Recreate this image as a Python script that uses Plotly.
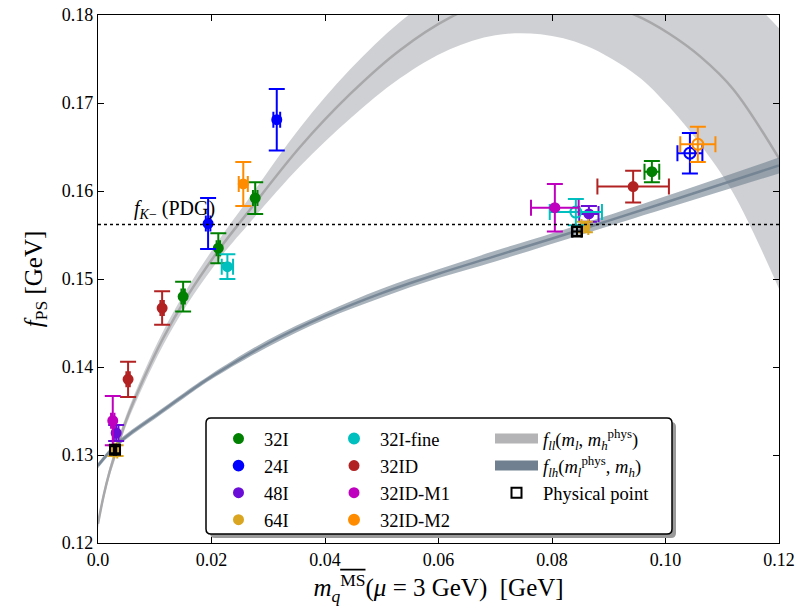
import plotly.graph_objects as go

# ---------------- data ----------------
# f_ll band (light gray): central curve and half width
m_ll = [0.0, 0.001, 0.002, 0.003, 0.005, 0.008, 0.0115, 0.0155, 0.0215, 0.0262, 0.0356,
        0.0444, 0.0532, 0.062, 0.070, 0.078, 0.086, 0.095, 0.1006, 0.1061, 0.1119, 0.12]
fll_center = [0.1222, 0.1254, 0.1280, 0.1301, 0.1340, 0.1386, 0.1433, 0.1478, 0.1535, 0.1574,
              0.1650, 0.1710, 0.1760, 0.1797, 0.1818, 0.1825, 0.1819, 0.1799, 0.1779, 0.1753,
              0.1716, 0.1637]
fll_halfwidth = [0.0005, 0.0005, 0.0005, 0.0006, 0.0006, 0.0007, 0.0008, 0.0009, 0.0011, 0.0014,
                 0.0022, 0.0028, 0.0032, 0.0036, 0.0041, 0.0047, 0.0054, 0.0068, 0.0083, 0.0100,
                 0.0118, 0.0148]

# f_lh band (slate gray)
m_lh = [0.0, 0.003, 0.006, 0.01, 0.015, 0.02, 0.03, 0.04, 0.05, 0.06, 0.07, 0.085, 0.1, 0.12]
flh_center = [0.1288, 0.1310, 0.1326, 0.1344, 0.1367, 0.1389, 0.1427, 0.1458, 0.1484, 0.1506,
              0.1526, 0.1556, 0.1587, 0.1629]
flh_halfwidth = [0.0003, 0.0003, 0.0003, 0.0003, 0.0003, 0.0003, 0.0004, 0.0004, 0.0005, 0.0005,
                 0.0006, 0.0006, 0.0007, 0.0009]

# ensembles: name, colour, points (mq, fPS, err_mq, err_fPS, open marker?)
ens_names = ["32I", "24I", "48I", "64I", "32I-fine", "32ID", "32ID-M1", "32ID-M2"]
ens_colors = ["#008000", "#0000ff", "#6a0dd6", "#daa520", "#00bfbf", "#b22222", "#bf00bf", "#ff8c00"]
ens_mq = [[0.0150, 0.0212, 0.0277, 0.0976],
          [0.0194, 0.0315, 0.1043],
          [0.0032, 0.0865],
          [0.0031, 0.0858],
          [0.0228, 0.0842],
          [0.0053, 0.0113, 0.0943],
          [0.0026, 0.0805],
          [0.0256, 0.1057]]
ens_f = [[0.1480, 0.1535, 0.1592, 0.1622],
         [0.1563, 0.1681, 0.1643],
         [0.1325, 0.1574],
         [0.1305, 0.1559],
         [0.1514, 0.1576],
         [0.1386, 0.1467, 0.1605],
         [0.1339, 0.1581],
         [0.1608, 0.1653]]
ens_mq_err = [[0.0003, 0.0003, 0.0004, 0.0013],
              [0.0004, 0.0006, 0.0022],
              [0.0004, 0.0017],
              [0.0003, 0.0006],
              [0.0010, 0.0046],
              [0.0003, 0.0003, 0.0063],
              [0.0003, 0.0042],
              [0.0008, 0.0031]]
ens_f_err = [[0.0017, 0.0017, 0.0018, 0.0012],
             [0.0029, 0.0035, 0.0023],
             [0.0009, 0.0009],
             [0.0006, 0.0006],
             [0.0014, 0.0015],
             [0.0020, 0.0019, 0.0018],
             [0.0028, 0.0027],
             [0.0025, 0.0020]]
ens_open = [[False, False, False, False],
            [False, False, True],
            [False, False],
            [False, False],
            [False, True],
            [False, False, False],
            [False, False],
            [False, True]]

phys_mq = [0.0030, 0.0844]
phys_f = [0.1306, 0.1554]
phys_mq_err = [0.0002, 0.0008]
phys_f_err = [0.0004, 0.0005]

fK_pdg = 0.1562

x_ticks = [0.0, 0.02, 0.04, 0.06, 0.08, 0.10, 0.12]
x_ticktext = ["0.0", "0.02", "0.04", "0.06", "0.08", "0.10", "0.12"]
y_ticks = [0.12, 0.13, 0.14, 0.15, 0.16, 0.17, 0.18]
y_ticktext = ["0.12", "0.13", "0.14", "0.15", "0.16", "0.17", "0.18"]

# ---------------- figure ----------------
FONT = "Liberation Serif"
fig = go.Figure()

fll_lo = [c - h for c, h in zip(fll_center, fll_halfwidth)]
fll_hi = [c + h for c, h in zip(fll_center, fll_halfwidth)]
flh_lo = [c - h for c, h in zip(flh_center, flh_halfwidth)]
flh_hi = [c + h for c, h in zip(flh_center, flh_halfwidth)]

fll_name = "<i>f</i><sub><i>ll</i></sub>(<i>m</i><sub><i>l</i></sub>, <i>m</i><sub><i>h</i></sub><sup>phys</sup>)"
flh_name = "<i>f</i><sub><i>lh</i></sub>(<i>m</i><sub><i>l</i></sub><sup>phys</sup>, <i>m</i><sub><i>h</i></sub>)"

fig.add_trace(go.Scatter(x=m_ll, y=fll_lo, mode="lines", line=dict(width=0, shape="spline"),
                         showlegend=False, hoverinfo="skip"))
fig.add_trace(go.Scatter(x=m_ll, y=fll_hi, mode="lines", line=dict(width=0, shape="spline"),
                         fill="tonexty", fillcolor="rgba(160,162,168,0.5)",
                         showlegend=False, hoverinfo="skip"))
fig.add_trace(go.Scatter(x=m_ll, y=fll_center, mode="lines",
                         line=dict(width=2.5, color="#a8a8ab", shape="spline"),
                         showlegend=False, hoverinfo="skip"))

fig.add_trace(go.Scatter(x=m_lh, y=flh_lo, mode="lines", line=dict(width=0, shape="spline"),
                         showlegend=False, hoverinfo="skip"))
fig.add_trace(go.Scatter(x=m_lh, y=flh_hi, mode="lines", line=dict(width=0, shape="spline"),
                         fill="tonexty", fillcolor="rgba(112,128,144,0.6)",
                         showlegend=False, hoverinfo="skip"))
fig.add_trace(go.Scatter(x=m_lh, y=flh_center, mode="lines",
                         line=dict(width=2.5, color="rgba(112,128,144,0.85)", shape="spline"),
                         showlegend=False, hoverinfo="skip"))

# legend proxies for the two bands (patches)
fig.add_trace(go.Scatter(x=[None], y=[None], mode="lines", line=dict(width=16, color="#b4b4b6"),
                         name=fll_name, legend="legend3", legendrank=1))
fig.add_trace(go.Scatter(x=[None], y=[None], mode="lines", line=dict(width=16, color="#708090"),
                         name=flh_name, legend="legend3", legendrank=2))

for i, name in enumerate(ens_names):
    symbols = ["circle-open" if o else "circle" for o in ens_open[i]]
    sizes = [11 if o else 9 for o in ens_open[i]]
    fig.add_trace(go.Scatter(
        x=ens_mq[i], y=ens_f[i], mode="markers", name=name,
        legend="legend" if i < 4 else "legend2", legendrank=i,
        marker=dict(color=ens_colors[i], symbol=symbols, size=sizes, opacity=1,
                    line=dict(width=2, color=ens_colors[i])),
        error_x=dict(type="data", array=ens_mq_err[i], color=ens_colors[i], thickness=2, width=8),
        error_y=dict(type="data", array=ens_f_err[i], color=ens_colors[i], thickness=2, width=8),
    ))

fig.add_trace(go.Scatter(
    x=phys_mq, y=phys_f, mode="markers", name="Physical point", legend="legend3", legendrank=3,
    marker=dict(symbol="square-open", size=10, color="black", opacity=1, line=dict(width=2, color="black")),
    error_x=dict(type="data", array=phys_mq_err, color="black", thickness=2, width=6),
    error_y=dict(type="data", array=phys_f_err, color="black", thickness=2, width=6),
))

# f_K PDG line
fig.add_shape(type="line", xref="x", yref="y", x0=0, x1=0.12, y0=fK_pdg, y1=fK_pdg,
              line=dict(color="black", width=1.4, dash="dot"))
fig.add_annotation(x=0.0060, y=fK_pdg + 0.0001, xref="x", yref="y", xanchor="left", yanchor="bottom",
                   text="<i>f</i><sub><i>K</i>−</sub> (PDG)", showarrow=False,
                   font=dict(family=FONT, size=20, color="black"))

# plot area in pixels (the page body margin is removed by a post script)
W, H = 812, 608
ML, MR, MT, MB = 98, 33, 15, 65

px0, px1 = float(ML), float(W - MR)
py0, py1 = float(MT), float(H - MB)
def xp(p):
    return (p - px0) / (px1 - px0)
def yp(p):
    return (py1 - p) / (py1 - py0)

def rounded(x0, y0, x1, y1, r=5):
    rx = r / (px1 - px0)
    ry = r / (py1 - py0)
    X0, X1, Y0, Y1 = xp(x0), xp(x1), yp(y1), yp(y0)
    return (f"M {X0+rx},{Y0} L {X1-rx},{Y0} Q {X1},{Y0} {X1},{Y0+ry} "
            f"L {X1},{Y1-ry} Q {X1},{Y1} {X1-rx},{Y1} L {X0+rx},{Y1} "
            f"Q {X0},{Y1} {X0},{Y1-ry} L {X0},{Y0+ry} Q {X0},{Y0} {X0+rx},{Y0} Z")

# legend frame with shadow
fig.add_shape(type="path", xref="paper", yref="paper", path=rounded(210, 422, 676, 538),
              fillcolor="#9a9a9a", line=dict(width=0), layer="above")
fig.add_shape(type="path", xref="paper", yref="paper", path=rounded(206, 418, 672, 534),
              fillcolor="white", line=dict(width=1.5, color="black"), layer="above")

legend_common = dict(bgcolor="rgba(0,0,0,0)", borderwidth=0, xanchor="left", yanchor="top",
                     font=dict(family=FONT, size=18.5, color="black"), tracegroupgap=0,
                     traceorder="normal")
fig.update_layout(
    legend=dict(x=xp(213), y=yp(420), itemwidth=41, **legend_common),
    legend2=dict(x=xp(328), y=yp(420), itemwidth=42, **legend_common),
    legend3=dict(x=xp(490), y=yp(420), itemwidth=43, **legend_common),
)

fig.update_layout(
    width=W, height=H,
    margin=dict(l=ML, r=MR, t=MT, b=MB, autoexpand=False),
    plot_bgcolor="white", paper_bgcolor="white",
    font=dict(family=FONT, color="black"),
    xaxis=dict(range=[0, 0.12], tickvals=x_ticks, ticktext=x_ticktext, ticks="inside", ticklen=6,
               tickcolor="black", showline=True, linecolor="black", linewidth=1.3, mirror="ticks",
               showgrid=False, zeroline=False, tickfont=dict(family=FONT, size=18), automargin=False,
               ticklabeloverflow="allow",
               title=dict(text="<i>m</i><sub><i>q</i></sub><sup><span style=\"text-decoration:overline\">MS</span></sup>(<i>μ</i> = 3 GeV)  [GeV]",
                          font=dict(family=FONT, size=25), standoff=4)),
    yaxis=dict(range=[0.12, 0.18], tickvals=y_ticks, ticktext=y_ticktext, ticks="inside", ticklen=6,
               tickcolor="black", showline=True, linecolor="black", linewidth=1.3, mirror="ticks",
               showgrid=False, zeroline=False, tickfont=dict(family=FONT, size=18), automargin=False,
               ticklabeloverflow="allow",
               title=dict(text="<i>f</i><sub>PS</sub> [GeV]", font=dict(family=FONT, size=25), standoff=12)),
)

fig.write_html("out.html", config={"displayModeBar": False},
               post_script="document.body.style.margin='0px'; document.body.style.overflow='hidden';")
